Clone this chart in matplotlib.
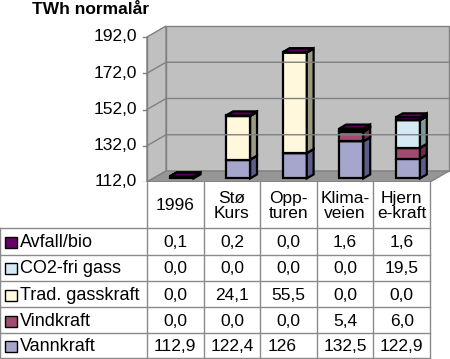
import matplotlib
matplotlib.use('Agg')
import matplotlib.pyplot as plt
from matplotlib.patches import Polygon, Rectangle

plt.rcParams['font.family'] = ['Liberation Sans', 'DejaVu Sans']

# Data (table values)
scenarios = ['1996', 'Stø\nKurs', 'Opp-\nturen', 'Klima-\nveien', 'Hjern\ne-kraft']
series_names = ['Vannkraft', 'Vindkraft', 'Trad. gasskraft', 'CO2-fri gass', 'Avfall/bio']
vannkraft = [112.9, 122.4, 126, 132.5, 122.9]
vindkraft = [0.0, 0.0, 0.0, 5.4, 6.0]
trad_gass = [0.0, 24.1, 55.5, 0.0, 0.0]
co2_fri = [0.0, 0.0, 0.0, 0.0, 19.5]
avfall_bio = [0.1, 0.2, 0.0, 1.6, 1.6]
# the CO2 bar in the chart is drawn shorter than the table says
co2_fri_bar = [0.0, 0.0, 0.0, 0.0, 15.2]
yticks = [112, 132, 152, 172, 192]

table_series = [vannkraft, vindkraft, trad_gass, co2_fri, avfall_bio]
bar_series = [vannkraft, vindkraft, trad_gass, co2_fri_bar, avfall_bio]
front_cols = ['#a6a6cc', '#a04c70', '#fff8dc', '#d5e9f5', '#660066']
side_cols = ['#5c5c8a', '#6b2d4a', '#9a9a82', '#7f9a9a', '#450045']
top_cols = ['#8484b0', '#85395c', '#e0dcc0', '#b0c8d4', '#5a005a']

W, H = 450, 359
px_cat = 56.6        # pixels per category
px_unit = 1.8125     # pixels per TWh
x_left = 147         # px of category 0
y_base = 182         # px (from top) of 112
DX = 19 / px_cat     # depth offsets in data units
DY = 11 / px_unit
ymin = 112

fig = plt.figure(figsize=(W / 100, H / 100), dpi=100)

# main chart axes
ax = fig.add_axes([0, (H - y_base) / H, 1, y_base / H])
ax.set_xlim(-x_left / px_cat, (W - x_left) / px_cat)
ax.set_ylim(ymin, ymin + y_base / px_unit)
ax.axis('off')

n = len(scenarios)
ymax = yticks[-1]
grid = '#808080'

# walls and floor
ax.add_patch(Polygon([(DX, ymin + DY), (n + DX, ymin + DY), (n + DX, ymax + DY), (DX, ymax + DY)],
                     closed=True, fc='#c0c0c0', ec=grid, lw=1))
ax.add_patch(Polygon([(0, ymin), (DX, ymin + DY), (DX, ymax + DY), (0, ymax)],
                     closed=True, fc='#c0c0c0', ec=grid, lw=1))
ax.add_patch(Polygon([(0, ymin), (n, ymin), (n + DX, ymin + DY), (DX, ymin + DY)],
                     closed=True, fc='#969696', ec=grid, lw=1))
for t in yticks[1:-1]:
    ax.plot([0, DX, n + DX], [t, t + DY, t + DY], color=grid, lw=1)
for t in yticks:
    ax.plot([-0.07, 0], [t, t], color=grid, lw=1)
    ax.text(-0.18, t, f'{t:.1f}'.replace('.', ','), ha='right', va='center', fontsize=12.5)
ax.plot([0, 0], [ymin, ymax], color=grid, lw=1)
ax.plot([0, n], [ymin, ymin], color=grid, lw=1)

# bars (zero segments still drawn, so the top face shows the last series)
bw = 0.424
f = 0.33
d = 0.36
for i in range(n):
    x0 = i + 0.5 - bw / 2 + DX * f
    fy = DY * f
    sdx, sdy = DX * d, DY * d
    base = 0.0
    for k, s in enumerate(bar_series):
        v = s[i]
        yb = ymin if base == 0 else base
        yt = base + v
        base = yt
        ax.add_patch(Polygon([(x0, yb + fy), (x0 + bw, yb + fy), (x0 + bw, yt + fy), (x0, yt + fy)],
                             closed=True, fc=front_cols[k], ec='black', lw=1.6, joinstyle='miter'))
        ax.add_patch(Polygon([(x0 + bw, yb + fy), (x0 + bw + sdx, yb + fy + sdy),
                              (x0 + bw + sdx, yt + fy + sdy), (x0 + bw, yt + fy)],
                             closed=True, fc=side_cols[k], ec='black', lw=1.6, joinstyle='miter'))
        ax.add_patch(Polygon([(x0, yt + fy), (x0 + bw, yt + fy), (x0 + bw + sdx, yt + fy + sdy),
                              (x0 + sdx, yt + fy + sdy)],
                             closed=True, fc=top_cols[k], ec='black', lw=1.6, joinstyle='miter'))

fig.text(32 / W, 1 - 14 / H, 'TWh normalår', fontsize=12.5, fontweight='bold', va='baseline')

# data table
tab = fig.add_axes([0, 0, 1, (H - y_base) / H])
tab.set_xlim(-x_left / px_cat, (W - x_left) / px_cat)
tab.set_ylim(H - y_base, 0)
tab.axis('off')
rows = [0, 46, 72.5, 99, 125, 151, 176]
lc = '#8a8a8a'
for c in range(n + 1):
    tab.plot([c, c], [0, rows[-1]], color=lc, lw=1)
for r in rows[1:]:
    tab.plot([-x_left / px_cat, n], [r, r], color=lc, lw=1)
tab.plot([-x_left / px_cat + 0.005] * 2, [rows[1], rows[-1]], color=lc, lw=1)

for i, name in enumerate(scenarios):
    tab.text(i + 0.5, rows[1] / 2 + 1, name, ha='center', va='center', fontsize=12.5, linespacing=0.95)

order = list(range(len(table_series)))[::-1]
for r, k in enumerate(order):
    yc = (rows[r + 1] + rows[r + 2]) / 2 + 1
    tab.add_patch(Rectangle((-x_left / px_cat + 5 / px_cat, yc - 5.5), 12 / px_cat, 11,
                            fc=front_cols[k], ec='black', lw=1))
    tab.text(-x_left / px_cat + 20 / px_cat, yc, series_names[k], ha='left', va='center', fontsize=13)
    for i, v in enumerate(table_series[k]):
        if isinstance(v, int):
            tab.text(i + 7 / px_cat, yc, str(v), ha='left', va='center', fontsize=12.5)
        else:
            tab.text(i + 0.5, yc, f'{v:.1f}'.replace('.', ','), ha='center', va='center', fontsize=12.5)

fig.savefig('out.png', dpi=100)
